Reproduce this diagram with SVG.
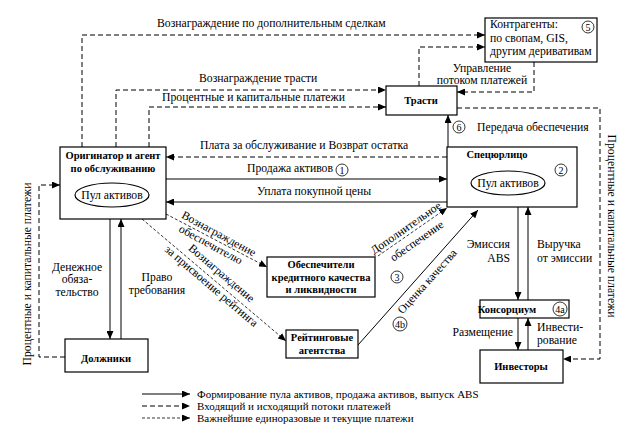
<svg xmlns="http://www.w3.org/2000/svg" width="631" height="437" viewBox="0 0 631 437">
<defs>
<marker id="ah" markerUnits="userSpaceOnUse" markerWidth="8" markerHeight="7" refX="8" refY="3.5" orient="auto"><path d="M0,0 L8,3.5 L0,7 z" fill="#000"/></marker>
<style>
text{font-family:"Liberation Serif","Times New Roman",serif;font-size:11.7px;fill:#000}
.b{font-weight:bold;font-size:10.5px}
.m{text-anchor:middle}
.e{text-anchor:end}
.lg{font-size:11px}
.box{fill:#fff;stroke:#000;stroke-width:1.2}
.c{fill:#fff;stroke:#000;stroke-width:0.8}
.ct{font-size:10px;text-anchor:middle}
.ln{fill:none;stroke:#000;stroke-width:1}
.s{marker-end:url(#ah)}
.d{stroke-dasharray:5,3}
.f{stroke-dasharray:3,2;stroke-width:0.8}
</style>
</defs>
<rect width="631" height="437" fill="#fff"/>

<g id="connectors">
<path class="ln d s" d="M82,147 V35 H485"/>
<path class="ln d s" d="M116,147 V90 H386"/>
<path class="ln d s" d="M149,147 V107 H386"/>
<path class="ln d s" d="M419,86 V47 H485"/>
<path class="ln d s" d="M534,62 V92 H457"/>
<path class="ln d s" d="M457,108 H600 V359 H563"/>
<path class="ln s" d="M448,147 V115"/>
<path class="ln d s" d="M447,157 H166"/>
<path class="ln s" d="M166,179 H447"/>
<path class="ln s" d="M447,202 H166"/>
<path class="ln d s" d="M65,357 H39 V185 H60"/>
<path class="ln s" d="M110,219 V339"/>
<path class="ln s" d="M121,339 V219"/>
<path class="ln f s" d="M166,214 L267,267"/>
<path class="ln f s" d="M142,219 L286,341"/>
<path class="ln f s" d="M378,256 L447,208"/>
<path class="ln s" d="M358,345 L478,210"/>
<path class="ln s" d="M518,207 V300"/>
<path class="ln s" d="M528,300 V207"/>
<path class="ln s" d="M518,318 V350"/>
<path class="ln s" d="M528,350 V318"/>
</g>

<g id="labels">
<text x="157" y="27">Вознаграждение по дополнительным сделкам</text>
<text x="199" y="82">Вознаграждение трасти</text>
<text x="162" y="101">Процентные и капитальные платежи</text>
<text class="m" x="482" y="72">Управление</text>
<text class="m" x="482" y="84">потоком платежей</text>
<text x="477" y="131">Передача обеспечения</text>
<text x="200" y="149">Плата за обслуживание и Возврат остатка</text>
<text x="247" y="172">Продажа активов</text>
<text x="257" y="195">Уплата покупной цены</text>
<text class="m" x="77" y="271">Денежное</text>
<text class="m" x="77" y="283">обяза-</text>
<text class="m" x="77" y="296">тельство</text>
<text class="m" x="157" y="281">Право</text>
<text class="m" x="157" y="294">требования</text>
<text class="m" transform="translate(217,237) rotate(28.4)">Вознаграждение</text>
<text class="m" transform="translate(209,248) rotate(28.4)">обеспечителю</text>
<text class="m" transform="translate(219,276) rotate(40.5)">Вознаграждение</text>
<text class="m" transform="translate(209,289) rotate(40.5)">за присвоение рейтинга</text>
<text class="m" transform="translate(408,231) rotate(-35)">Дополнительное</text>
<text class="m" transform="translate(419,244) rotate(-35)">обеспечение</text>
<text class="m" transform="translate(430,284) rotate(-48)">Оценка качества</text>
<text class="e" x="510" y="248">Эмиссия</text>
<text class="e" x="510" y="262">ABS</text>
<text x="537" y="248">Выручка</text>
<text x="537" y="262">от эмиссии</text>
<text class="e" x="513" y="336">Размещение</text>
<text x="537" y="331">Инвести-</text>
<text x="537" y="344">рование</text>
<text class="m" transform="translate(31,274) rotate(-90)">Процентные и капитальные платежи</text>
<text class="m" transform="translate(608,226) rotate(90)">Процентные и капитальные платежи</text>
<g id="circles">
<circle class="c" cx="342" cy="170" r="6"/><text class="ct" x="342" y="173.5">1</text>
<circle class="c" cx="459" cy="127" r="6"/><text class="ct" x="459" y="130.5">6</text>
<circle class="c" cx="397" cy="277" r="6"/><text class="ct" x="397" y="280.5">3</text>
<circle class="c" cx="400" cy="324" r="7"/><text class="ct" x="400" y="327.5">4b</text>
</g>
</g>

<g id="originator">
<rect class="box" x="60" y="147" width="106" height="72"/>
<text class="b m" x="113" y="159">Оригинатор и агент</text>
<text class="b m" x="113" y="172">по обслуживанию</text>
<ellipse class="box" cx="112" cy="195" rx="37" ry="12"/>
<text class="m" x="112" y="199">Пул активов</text>
</g>

<g id="trasti">
<rect class="box" x="386" y="86" width="71" height="29"/>
<text class="b m" x="421" y="104">Трасти</text>
</g>

<g id="kontragenty">
<rect class="box" x="485" y="18" width="112" height="44"/>
<text x="490" y="28">Контрагенты:</text>
<text x="490" y="42">по свопам, GIS,</text>
<text x="490" y="55">другим деривативам</text>
<circle class="c" cx="588" cy="27" r="6"/><text class="ct" x="588" y="30.5">5</text>
</g>

<g id="spv">
<rect class="box" x="447" y="147" width="130" height="60"/>
<text class="b m" x="497" y="158">Спецюрлицо</text>
<ellipse class="box" cx="508" cy="183" rx="37" ry="12"/>
<text class="m" x="508" y="187">Пул активов</text>
<circle class="c" cx="561" cy="170" r="6"/><text class="ct" x="561" y="173.5">2</text>
</g>

<g id="obespechiteli">
<rect class="box" x="267" y="257" width="108" height="40"/>
<text class="b m" x="321" y="268">Обеспечители</text>
<text class="b m" x="321" y="281">кредитного качества</text>
<text class="b m" x="321" y="293">и ликвидности</text>
</g>

<g id="rating">
<rect class="box" x="286" y="330" width="72" height="28"/>
<text class="b m" x="322" y="341">Рейтинговые</text>
<text class="b m" x="322" y="354">агентства</text>
</g>

<g id="dolzhniki">
<rect class="box" x="65" y="339" width="83" height="33"/>
<text class="b m" x="106" y="362">Должники</text>
</g>

<g id="konsortsium">
<rect class="box" x="480" y="300" width="89" height="18"/>
<text class="b m" x="507" y="313">Консорциум</text>
<circle class="c" cx="560" cy="309" r="7"/><text class="ct" x="560" y="312.5">4a</text>
</g>

<g id="investory">
<rect class="box" x="480" y="350" width="83" height="33"/>
<text class="b m" x="521" y="370">Инвесторы</text>
</g>

<g id="legend">
<path class="ln s" d="M142,394 H190"/>
<path class="ln d s" d="M142,406 H190"/>
<path class="ln f s" d="M142,418 H190"/>
<text class="lg" x="197" y="398">Формирование пула активов, продажа активов, выпуск ABS</text>
<text class="lg" x="197" y="410">Входящий и исходящий потоки платежей</text>
<text class="lg" x="197" y="422">Важнейшие единоразовые и текущие платежи</text>
</g>
</svg>
